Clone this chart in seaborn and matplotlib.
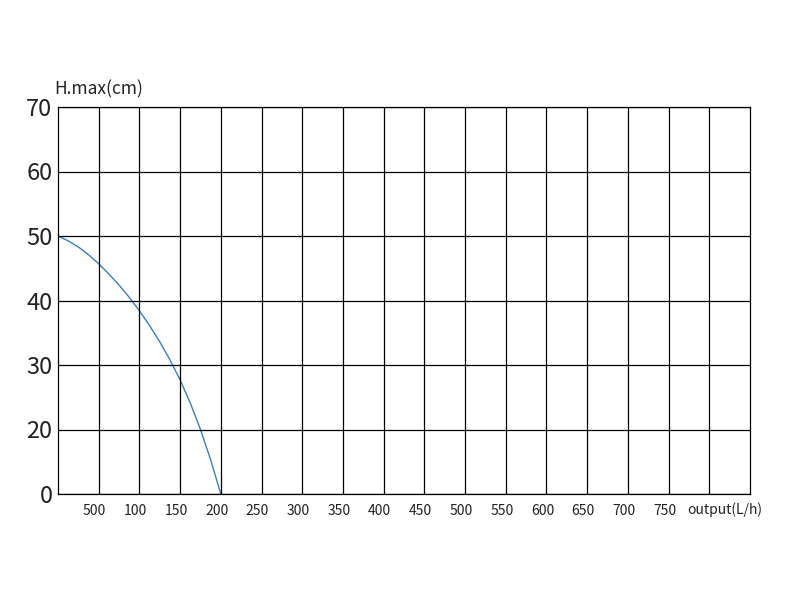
import numpy as np
import pandas as pd
import matplotlib
matplotlib.use("Agg")
import matplotlib.pyplot as plt
from matplotlib.transforms import ScaledTranslation
import seaborn as sns

# pump curve (flow in L/h, head in cm)
flow = [0, 12.5, 25, 37.5, 50, 62.5, 75, 87.5, 100, 112.5, 125, 137.5, 150, 162.5, 175, 187.5, 200]
head = [50, 49.25, 48.3, 47.1, 45.7, 44.1, 42.4, 40.5, 38.4, 36.1, 33.6, 30.8, 27.7, 24.1, 20, 10.6, 0]

y_ticks = [0, 20, 30, 40, 50, 60, 70]
x_ticks = [50, 100, 150, 200, 250, 300, 350, 400, 450, 500, 550, 600, 650, 700, 750, 800]
x_labels = ["500", "100", "150", "200", "250", "300", "350", "400", "450", "500",
            "550", "600", "650", "700", "750", ""]


def fwd(v):
    v = np.asarray(v, dtype=float)
    return np.where(v <= 20, v / 20.0, (v - 10) / 10.0)


def inv(p):
    p = np.asarray(p, dtype=float)
    return np.where(p <= 1, p * 20.0, p * 10.0 + 10)


sns.set_theme(style="white")
plt.rcParams['font.family'] = ['Noto Sans CJK SC', 'DejaVu Sans']

fig = plt.figure(figsize=(7.9, 6), dpi=100)
ax = fig.add_axes([58 / 790, 1 - 494 / 600, (750 - 58) / 790, (494 - 107) / 600])

df = pd.DataFrame({"flow": flow, "head": head})
sns.lineplot(data=df, x="flow", y="head", ax=ax, color="#3a7fc0", linewidth=1.0)

ax.set_yscale("function", functions=(fwd, inv))
ax.set_ylim(0, 70)
ax.set_xlim(0, 850)
ax.set_yticks(y_ticks)
ax.set_yticklabels([str(t) for t in y_ticks], fontsize=17, fontweight="light", color="#222222")
ax.set_xticks(x_ticks)
ax.set_xticklabels(x_labels, fontsize=10, color="#222222")
ax.tick_params(axis="x", length=0, pad=7)
ax.tick_params(axis="y", length=0, pad=4)
for lbl in ax.get_xticklabels():
    lbl.set_transform(lbl.get_transform() + ScaledTranslation(-4 / 100, 0, fig.dpi_scale_trans))

ax.grid(True, color="black", linewidth=0.9)
ax.set_axisbelow(False)
for s in ax.spines.values():
    s.set_color("black")
    s.set_linewidth(0.9)

ax.set_xlabel("")
ax.set_ylabel("")
ax.annotate("output(L/h)", xy=(800, 0), xycoords="data", xytext=(11, -11),
            textcoords="offset points", ha="center", va="center", fontsize=10, color="#222222")
ax.annotate("H.max(cm)", xy=(0, 70), xycoords="data", xytext=(-3, 13),
            textcoords="offset points", ha="left", va="center", fontsize=12.5, color="#222222")

fig.savefig("out.png", dpi=100)
